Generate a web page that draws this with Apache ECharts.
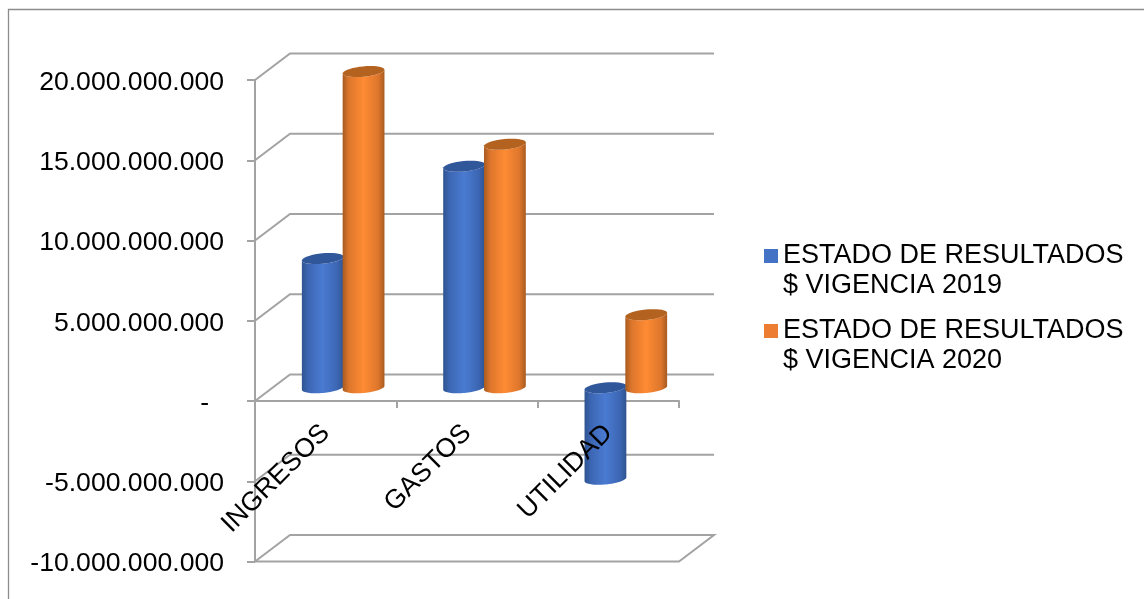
<!DOCTYPE html>
<html>
<head>
<meta charset="utf-8">
<style>html,body{margin:0;padding:0;background:#fff}#chart{width:1144px;height:599px}</style>
<script src="https://cdn.jsdelivr.net/npm/echarts@6/dist/echarts.min.js"></script>
</head>
<body>
<div id="chart"></div>
<script>
var categories = ['INGRESOS', 'GASTOS', 'UTILIDAD'];
var vigencia2019 = [8050000000, 13800000000, -5700000000];
var vigencia2020 = [19700000000, 15170000000, 4550000000];
var valueTicks = [-10000000000, -5000000000, 0, 5000000000, 10000000000, 15000000000, 20000000000];
var seriesNames = ['ESTADO DE RESULTADOS\n$ VIGENCIA 2019', 'ESTADO DE RESULTADOS\n$ VIGENCIA 2020'];

var FONT = '"Liberation Sans", Arial, sans-serif';
var GRID_COLOR = '#a3a3a3';
var DEPTH_X = 35, DEPTH_Y = -26.5;
var CYL_RX = 21, CYL_RY = 5.2, CYL_SPACING = 20.4, CYL_TILT = -5.5 * Math.PI / 180;
var GRID_TOP = 80, GRID_BOTTOM = 37.5, CHART_HEIGHT = 599;
// distance from the bottom of the plot up to the zero line
var ZERO_LIFT = (CHART_HEIGHT - GRID_TOP - GRID_BOTTOM) * 10 / 30;

function pointOnRim(cx, cy, t) {
  var ex = CYL_RX * Math.cos(t), ey = CYL_RY * Math.sin(t);
  return [cx + ex * Math.cos(CYL_TILT) - ey * Math.sin(CYL_TILT),
          cy + ex * Math.sin(CYL_TILT) + ey * Math.cos(CYL_TILT)];
}
function rim(cx, cy, from, to) {
  var pts = [];
  for (var i = 0; i <= 36; i++) pts.push(pointOnRim(cx, cy, from + (to - from) * i / 36));
  return pts;
}

// One cylinder per value, standing half way into the chart's depth.
function cylinderRenderer(sideIndex, stops, capColor) {
  return function (params, api) {
    var cat = api.value(0), val = api.value(1);
    var base = api.coord([cat, 0]);
    var end = api.coord([cat, val]);
    var cx = base[0] + DEPTH_X / 2 + (sideIndex === 0 ? -CYL_SPACING : CYL_SPACING);
    var yTop = Math.min(base[1], end[1]) + DEPTH_Y / 2;
    var yBottom = Math.max(base[1], end[1]) + DEPTH_Y / 2;
    var body = rim(cx, yBottom, 0, Math.PI).concat(rim(cx, yTop, Math.PI, 0));
    return {
      type: 'group',
      children: [
        { type: 'polygon', shape: { points: body },
          style: { fill: new echarts.graphic.LinearGradient(0, 0, 1, 0, stops) } },
        { type: 'polygon', shape: { points: rim(cx, yTop, 0, Math.PI * 2) },
          style: { fill: capColor } }
      ]
    };
  };
}

// Side wall diagonal and back wall line for each value tick, plus the floor outline.
function renderWall(params, api) {
  var val = api.value(1);
  var p = api.coord([0, val]);
  var left = params.coordSys.x, right = left + params.coordSys.width;
  var pts = [[left, p[1]], [left + DEPTH_X, p[1] + DEPTH_Y], [right + DEPTH_X, p[1] + DEPTH_Y]];
  if (val === valueTicks[0]) pts.push([right, p[1]], [left, p[1]]);
  return { type: 'polyline', shape: { points: pts }, style: { stroke: GRID_COLOR, lineWidth: 2, fill: null } };
}

var stops2019 = [
  { offset: 0, color: '#2f5490' }, { offset: 0.15, color: '#3c66b3' },
  { offset: 0.5, color: '#4a7bd2' }, { offset: 0.85, color: '#3c66b3' }, { offset: 1, color: '#2f5490' }
];
var stops2020 = [
  { offset: 0, color: '#a85b20' }, { offset: 0.15, color: '#dd762c' },
  { offset: 0.5, color: '#ff8b34' }, { offset: 0.85, color: '#dd762c' }, { offset: 1, color: '#a85b20' }
];

function formatTick(v) {
  if (v === 0) return '-\u00a0\u00a0';
  return String(v).replace(/\B(?=(\d{3})+(?!\d))/g, '.');
}

var chart = echarts.init(document.getElementById('chart'), null, { renderer: 'canvas' });
chart.setOption({
  animation: false,
  backgroundColor: '#fff',
  textStyle: { fontFamily: FONT },
  graphic: [{
    type: 'polyline', z: 0, silent: true,
    shape: { points: [[8.5, 599], [8.5, 9.5], [1144, 9.5]] },
    style: { stroke: '#8c8c8c', lineWidth: 1.3, fill: null }
  }],
  grid: { left: 255, right: 465, top: GRID_TOP, bottom: GRID_BOTTOM, outerBoundsMode: 'none', containLabel: false },
  legend: {
    orient: 'vertical', left: 764, top: 211, padding: 0, itemWidth: 14, itemHeight: 14, itemGap: -15,
    icon: 'rect', selectedMode: false, align: 'left', data: seriesNames,
    // the leading blank line keeps the swatch level with the first text line
    formatter: function (name) { return '\n' + name; },
    textStyle: { fontFamily: FONT, fontSize: 27, color: '#000', lineHeight: 30 }
  },
  xAxis: [{
    type: 'category', data: categories, z: 0, position: 'bottom',
    axisLine: { onZero: true, lineStyle: { color: GRID_COLOR, width: 2 } },
    axisTick: { show: true, length: 7, lineStyle: { color: GRID_COLOR, width: 2 } },
    axisLabel: { show: false }, splitLine: { show: false }
  }, {
    // labels sit above the cylinders, the axis line and ticks below them
    type: 'category', data: categories, z: 10, position: 'bottom', offset: -ZERO_LIFT,
    axisLine: { show: false, onZero: false },
    axisTick: { show: false }, splitLine: { show: false },
    axisLabel: { show: true, interval: 0, rotate: 45, margin: 28, fontFamily: FONT, fontSize: 26.6, color: '#000' }
  }],
  yAxis: {
    type: 'value', min: -10000000000, max: 20000000000, interval: 5000000000,
    axisLine: { show: true, lineStyle: { color: GRID_COLOR, width: 2 } },
    axisTick: { show: true, length: 8, lineStyle: { color: GRID_COLOR, width: 2 } },
    splitLine: { show: false },
    axisLabel: { margin: 31, verticalAlign: 'top', lineHeight: 5, fontFamily: FONT, fontSize: 26.6, color: '#000', formatter: formatTick }
  },
  series: [{
    type: 'custom', name: 'walls', z: 1, silent: true, xAxisIndex: 0,
    encode: { x: 0, y: 1 },
    data: valueTicks.map(function (t) { return [0, t]; }),
    renderItem: renderWall
  }, {
    type: 'custom', name: seriesNames[0], z: 2, xAxisIndex: 1, itemStyle: { color: '#4472c4' },
    encode: { x: 0, y: 1 },
    data: vigencia2019.map(function (v, i) { return [i, v]; }),
    renderItem: cylinderRenderer(0, stops2019, '#30579a')
  }, {
    type: 'custom', name: seriesNames[1], z: 3, xAxisIndex: 1, itemStyle: { color: '#ed7d31' },
    encode: { x: 0, y: 1 },
    data: vigencia2020.map(function (v, i) { return [i, v]; }),
    renderItem: cylinderRenderer(1, stops2020, '#b46220')
  }]
});
</script>
</body>
</html>
